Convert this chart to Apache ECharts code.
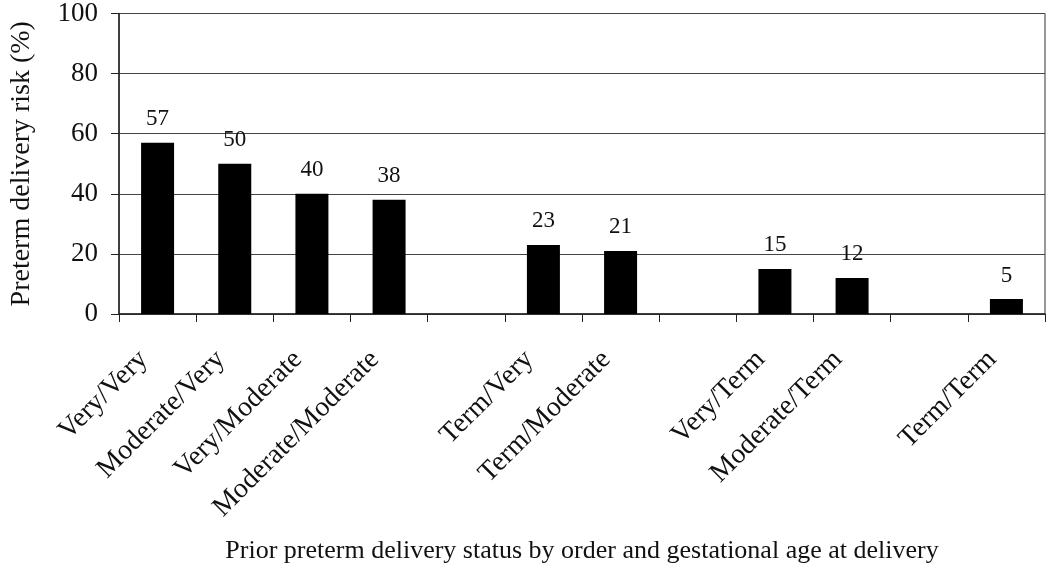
<!DOCTYPE html>
<html>
<head>
<meta charset="utf-8">
<script src="https://cdn.jsdelivr.net/npm/echarts@6/dist/echarts.min.js"></script>
<style>
html,body{margin:0;padding:0;background:#fff;}
#chart{width:1050px;height:569px;}
</style>
</head>
<body>
<div id="chart"></div>
<script>
const categories = ['Very/Very','Moderate/Very','Very/Moderate','Moderate/Moderate','','Term/Very','Term/Moderate','','Very/Term','Moderate/Term','','Term/Term'];
const riskValues = [57, 50, 40, 38, null, 23, 21, null, 15, 12, null, 5];
const yTicks = [0, 20, 40, 60, 80, 100];

const FONT = '"Liberation Serif", "Times New Roman", serif';
const chart = echarts.init(document.getElementById('chart'));
chart.setOption({
  animation: false,
  backgroundColor: '#fff',
  grid: {left: 116, right: 5, top: 12, bottom: 255, show: true, borderColor: '#333', borderWidth: 1},
  xAxis: {
    type: 'category',
    data: categories,
    name: 'Prior preterm delivery status by order and gestational age at delivery',
    nameLocation: 'middle',
    nameGap: 224,
    nameTextStyle: {fontFamily: FONT, fontSize: 26, color: '#111'},
    axisLine: {lineStyle: {color: '#222', width: 1.5}},
    axisTick: {show: true, alignWithLabel: false, length: 8, lineStyle: {color: '#222'}},
    axisLabel: {rotate: 45, interval: 0, fontFamily: FONT, fontSize: 28, color: '#111', margin: 27, padding: [0, 20, 0, 0]},
    splitLine: {show: false}
  },
  yAxis: {
    type: 'value',
    min: yTicks[0], max: yTicks[yTicks.length-1], interval: 20,
    name: 'Preterm delivery risk (%)',
    nameLocation: 'middle',
    nameGap: 83,
    nameTextStyle: {fontFamily: FONT, fontSize: 28, color: '#111'},
    axisLine: {show: true, lineStyle: {color: '#222', width: 1.5}},
    axisTick: {show: true, length: 8, lineStyle: {color: '#222'}},
    axisLabel: {fontFamily: FONT, fontSize: 27, color: '#111', margin: 21},
    splitLine: {show: true, lineStyle: {color: '#444', width: 1}}
  },
  series: [{
    type: 'bar',
    data: riskValues,
    barWidth: 33,
    itemStyle: {color: '#000'},
    label: {show: true, position: 'top', distance: 12, fontFamily: FONT, fontSize: 23, color: '#111'}
  }]
});
</script>
</body>
</html>
